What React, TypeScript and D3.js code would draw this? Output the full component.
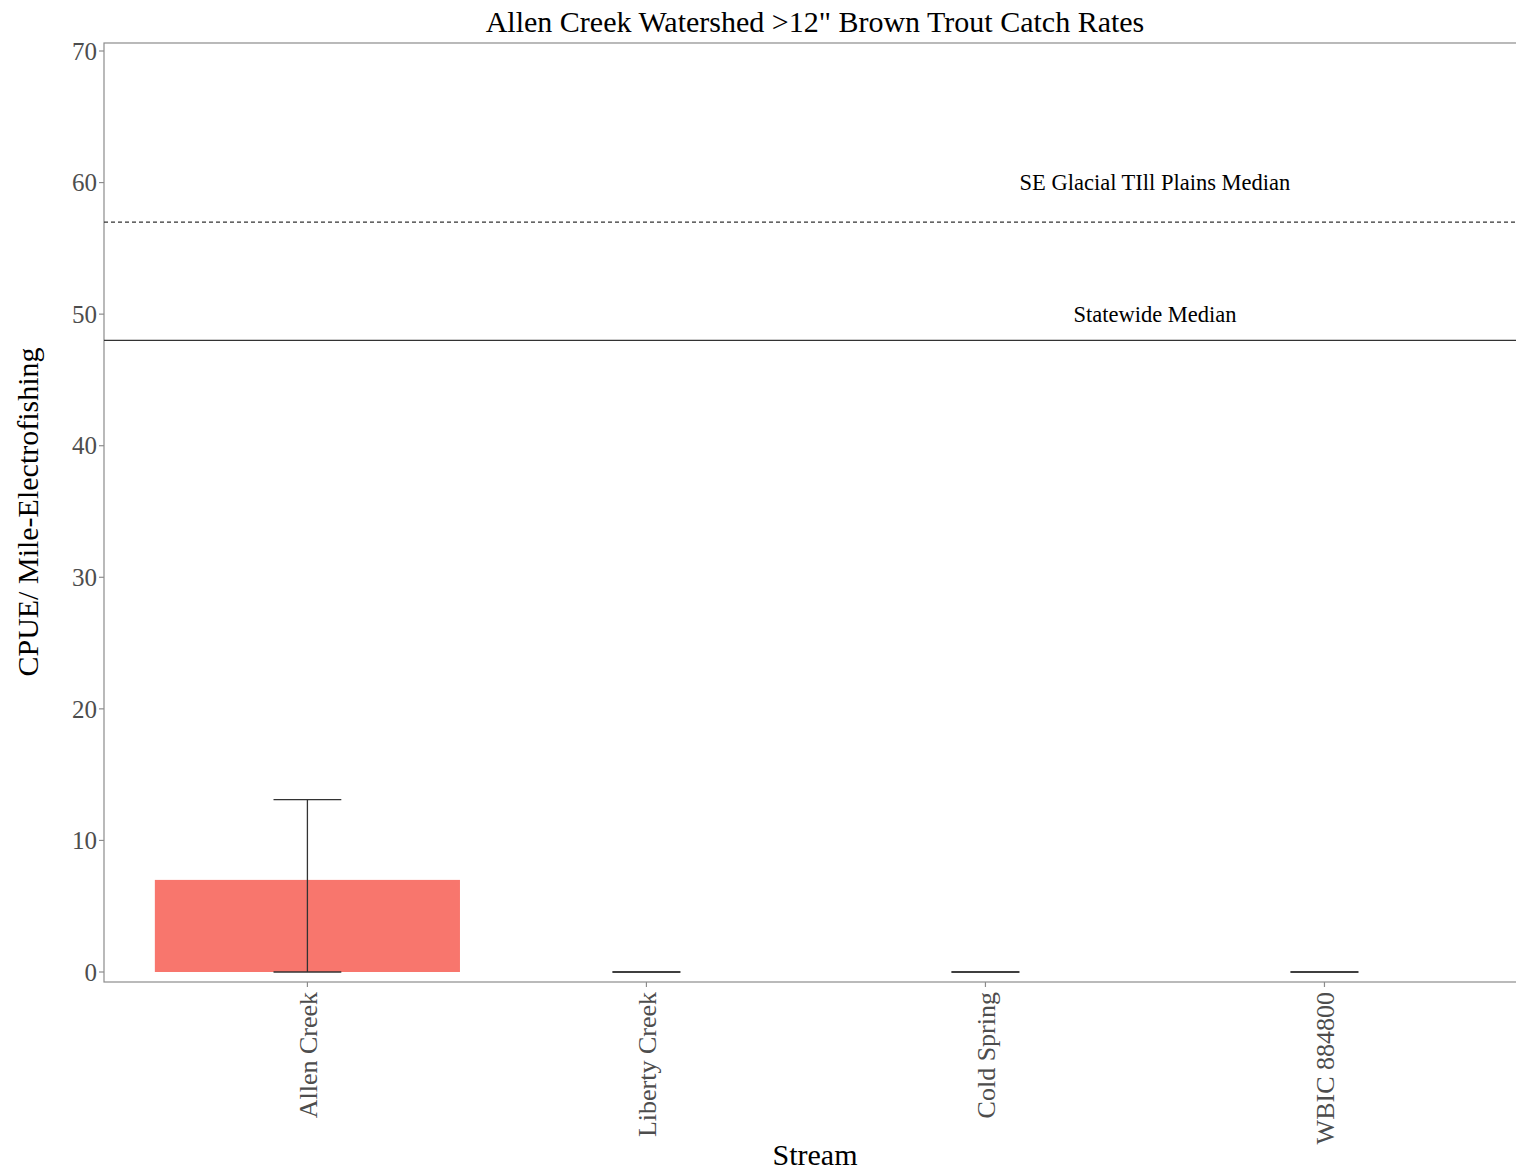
import React from "react";
import * as d3 from "d3";

const categories = ["Allen Creek", "Liberty Creek", "Cold Spring", "WBIC 884800"];
const cpue = [7.0, 0, 0, 0];
const errLow = [0, 0, 0, 0];
const errHigh = [13.1, 0, 0, 0];
const yTicks = [0, 10, 20, 30, 40, 50, 60, 70];
const refLines = [
  { value: 57, label: "SE Glacial TIll Plains Median", labelY: 60, dashed: true },
  { value: 48, label: "Statewide Median", labelY: 50, dashed: false },
];
const labelPos = 2.5;

const W = 1516, H = 1170;
const panel = { left: 104, right: 1516, top: 43, bottom: 982 };
const FONT = "'Liberation Serif', 'Times New Roman', serif";

export default function App() {
  const x = d3.scaleLinear().domain([-0.6, 3.565]).range([panel.left, panel.right]);
  const y = d3.scaleLinear().domain([0, 70]).range([972, 51]);
  const barW = 0.45;
  const whW = 0.1;
  return (
    <svg width={W} height={H} style={{ position: "absolute", left: 0, top: 0, background: "#fff" }} fontFamily={FONT}>
      <text x={815} y={32} textAnchor="middle" fontSize={30} fill="#000">
        Allen Creek Watershed &gt;12" Brown Trout Catch Rates
      </text>
      {/* panel border */}
      <rect x={panel.left} y={panel.top} width={panel.right - panel.left + 10} height={panel.bottom - panel.top} fill="none" stroke="#8c8c8c" strokeWidth={1.2} />
      {/* bars */}
      {categories.map((c, i) => (
        <rect key={c} x={x(i - barW)} width={x(i + barW) - x(i - barW)} y={y(Math.max(cpue[i], 0))} height={Math.abs(y(0) - y(cpue[i]))} fill="#F8766D" />
      ))}
      {/* error bars */}
      {categories.map((c, i) => (
        <g key={c} stroke="#333" strokeWidth={1.3}>
          <line x1={x(i)} x2={x(i)} y1={y(errLow[i])} y2={y(errHigh[i])} />
          <line x1={x(i - whW)} x2={x(i + whW)} y1={y(errLow[i])} y2={y(errLow[i])} />
          <line x1={x(i - whW)} x2={x(i + whW)} y1={y(errHigh[i])} y2={y(errHigh[i])} />
        </g>
      ))}
      {/* reference lines */}
      {refLines.map((r) => (
        <g key={r.label}>
          <line x1={panel.left} x2={panel.right} y1={y(r.value)} y2={y(r.value)} stroke="#333" strokeWidth={1.2} strokeDasharray={r.dashed ? "4,3" : undefined} />
          <text x={x(labelPos)} y={y(r.labelY)} dy="0.35em" textAnchor="middle" fontSize={22.5} fill="#000">{r.label}</text>
        </g>
      ))}
      {/* y axis ticks */}
      {yTicks.map((t) => (
        <g key={t}>
          <line x1={panel.left - 5} x2={panel.left} y1={y(t)} y2={y(t)} stroke="#8c8c8c" strokeWidth={1.2} />
          <text x={panel.left - 7} y={y(t)} dy="0.35em" textAnchor="end" fontSize={25} fill="#4d4d4d">{t}</text>
        </g>
      ))}
      {/* x axis ticks */}
      {categories.map((c, i) => (
        <g key={c}>
          <line x1={x(i)} x2={x(i)} y1={panel.bottom} y2={panel.bottom + 5} stroke="#8c8c8c" strokeWidth={1.2} />
          <text transform={`translate(${x(i)},${panel.bottom + 10}) rotate(-90)`} dy="0.35em" textAnchor="end" fontSize={26} fill="#4d4d4d">{c}</text>
        </g>
      ))}
      <text x={815} y={1165} textAnchor="middle" fontSize={30} fill="#000">Stream</text>
      <text transform={`translate(38,512) rotate(-90)`} textAnchor="middle" fontSize={30} fill="#000">CPUE/ Mile-Electrofishing</text>
    </svg>
  );
}
